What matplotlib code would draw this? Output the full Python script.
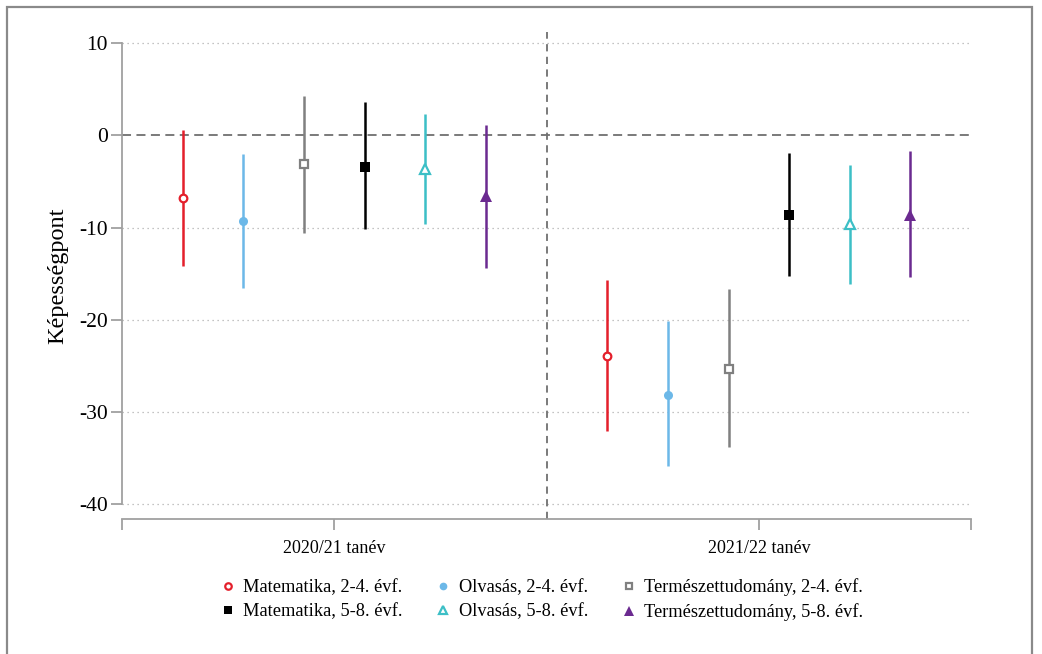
import matplotlib
matplotlib.use("Agg")
import matplotlib.pyplot as plt
from matplotlib.patches import Rectangle
import numpy as np

plt.rcParams['font.family'] = ['Liberation Serif', 'DejaVu Serif']

# tanévek
years = ['2020/21 tanév', '2021/22 tanév']

labels = ['Matematika, 2-4. évf.', 'Olvasás, 2-4. évf.', 'Természettudomány, 2-4. évf.',
          'Matematika, 5-8. évf.', 'Olvasás, 5-8. évf.', 'Természettudomány, 5-8. évf.']

# pontbecslés és konfidenciaintervallum, [2020/21, 2021/22]
est = {
    'Matematika, 2-4. évf.': [-6.8, -23.9],
    'Olvasás, 2-4. évf.': [-9.3, -28.1],
    'Természettudomány, 2-4. évf.': [-3.1, -25.3],
    'Matematika, 5-8. évf.': [-3.4, -8.6],
    'Olvasás, 5-8. évf.': [-3.6, -9.6],
    'Természettudomány, 5-8. évf.': [-6.6, -8.6],
}
ci_low = {
    'Matematika, 2-4. évf.': [-14.2, -32.1],
    'Olvasás, 2-4. évf.': [-16.6, -35.9],
    'Természettudomány, 2-4. évf.': [-10.6, -33.8],
    'Matematika, 5-8. évf.': [-10.2, -15.2],
    'Olvasás, 5-8. évf.': [-9.6, -16.1],
    'Természettudomány, 5-8. évf.': [-14.4, -15.4],
}
ci_high = {
    'Matematika, 2-4. évf.': [0.6, -15.7],
    'Olvasás, 2-4. évf.': [-2.0, -20.1],
    'Természettudomány, 2-4. évf.': [4.3, -16.7],
    'Matematika, 5-8. évf.': [3.6, -1.95],
    'Olvasás, 5-8. évf.': [2.3, -3.2],
    'Természettudomány, 5-8. évf.': [1.1, -1.7],
}

colors = ['#e41f2b', '#6cb8e8', '#808080', '#000000', '#3cbfc6', '#6b2a90']
markers = ['o', 'o', 's', 's', '^', '^']
filled = [False, True, False, True, False, True]
msizes = [5.5, 6.5, 5.5, 6.5, 6.5, 8.5]

fig = plt.figure(figsize=(10.42, 6.54), dpi=100)
ax = fig.add_axes([0.117, 0.2064, 0.815, 0.7446])

x_base = np.arange(1, len(years) + 1)
handles = {}
for i, lab in enumerate(labels):
    off = (i - 2.5) / 7
    xs = x_base + off
    y = np.array(est[lab])
    lo = y - np.array(ci_low[lab])
    hi = np.array(ci_high[lab]) - y
    ax.errorbar(xs, y, yerr=[lo, hi], fmt='none', ecolor=colors[i], elinewidth=1.8,
                capsize=0, zorder=3)
    fc = colors[i] if filled[i] else 'white'
    mew = 1.6 if not filled[i] else 0
    h = ax.plot(xs, y, linestyle='none', marker=markers[i], ms=msizes[i],
                mfc=fc, mec=colors[i], mew=mew, zorder=4)[0]
    handles[lab] = h

ax.set_xlim(0.5, 2.5)
ax.set_ylim(-41.6, 11.2)

# rácsvonalak
for g in [10, -10, -20, -30, -40]:
    ax.axhline(g, color='#b0b0b0', lw=0.9, ls=(0, (1, 3)), zorder=1)
ax.axhline(0, color='#707070', lw=1.3, ls=(0, (5, 3)), zorder=1)
ax.axvline(1.5, color='#707070', lw=1.3, ls=(0, (4, 3)), zorder=1)

for s in ['top', 'right']:
    ax.spines[s].set_visible(False)
ax.spines['left'].set_bounds(-40, 10)
ax.spines['left'].set_color('#a0a0a0')
ax.spines['bottom'].set_color('#a0a0a0')
ax.spines['left'].set_linewidth(1.3)
ax.spines['bottom'].set_linewidth(1.3)

ax.set_yticks([10, 0, -10, -20, -30, -40])
ax.set_yticklabels(['10', '0', '-10', '-20', '-30', '-40'])
ax.set_xticks([0.5, 1, 2, 2.5])
ax.set_xticklabels(['', years[0], years[1], ''])
ax.tick_params(axis='both', colors='#a0a0a0', length=8, width=1.3, labelcolor='black')
ax.tick_params(axis='y', labelsize=15.5, pad=2)
ax.tick_params(axis='x', labelsize=13, pad=7)
ax.set_ylabel('Képességpont', fontsize=17.5, labelpad=8)

leg_order = ['Matematika, 2-4. évf.', 'Matematika, 5-8. évf.',
             'Olvasás, 2-4. évf.', 'Olvasás, 5-8. évf.',
             'Természettudomány, 2-4. évf.', 'Természettudomány, 5-8. évf.']
leg = fig.legend([handles[l] for l in leg_order], leg_order, ncol=3, frameon=False,
                 loc='center', bbox_to_anchor=(0.52, 0.083), fontsize=13.2,
                 handletextpad=0.45, columnspacing=1.8, labelspacing=0.4,
                 markerscale=0.85, handlelength=0.8)

# keret a kép körül
fig.patches.append(Rectangle((7 / 1042, -0.05), (1032 - 7) / 1042, 1.05 - 7 / 654,
                             transform=fig.transFigure, fill=False,
                             edgecolor='#8a8a8a', lw=1.6))

fig.savefig('out.png', dpi=100)
